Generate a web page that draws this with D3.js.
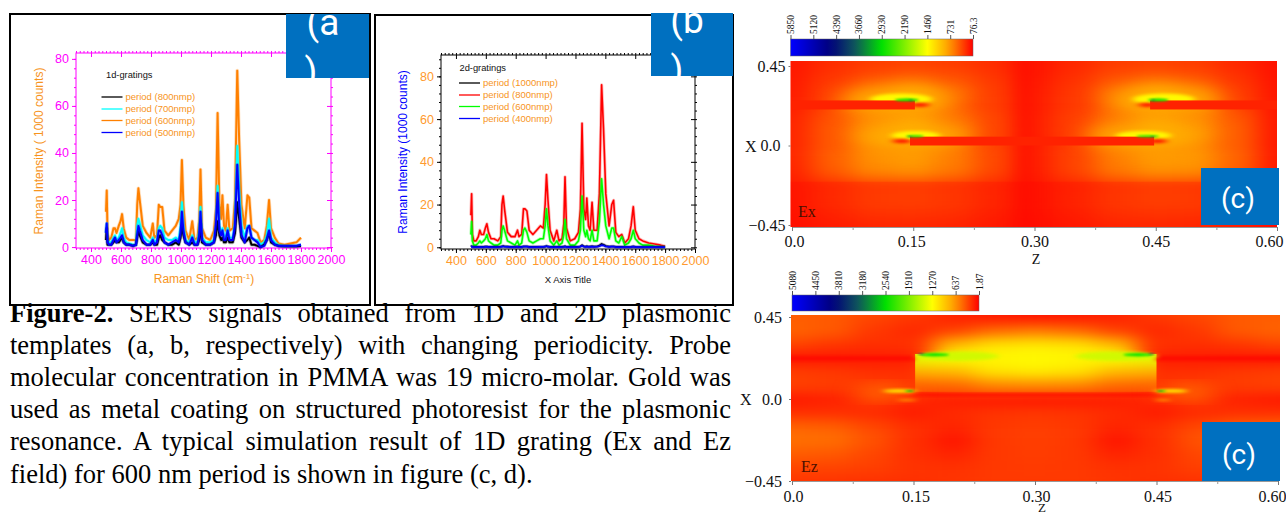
<!DOCTYPE html>
<html lang="en">
<head>
<meta charset="UTF-8">
<title>SERS signals</title>
<style>
  html, body { margin: 0; padding: 0; background: #fff; }
  svg { display: block; }
</style>
</head>
<body>
<div id="container"></div>
<script src="https://d3js.org/d3.v7.min.js"></script>
<script>
// raman shift grid shared by all spectra
var ramanShift = [500,505,510,520,535,550,560,570,585,597,
  607,618,635,655,680,700,708,716,725,745,
  770,795,812,822,840,852,862,875,890,915,
  940,965,985,997,1006,1016,1030,1055,1075,1090,
  1110,1122,1130,1140,1165,1195,1220,1233,1244,1256,
  1268,1276,1287,1298,1311,1323,1345,1360,1375,1388,
  1403,1425,1443,1455,1470,1490,1510,1530,1555,1572,
  1587,1600,1625,1650,1690,1730,1770,1800];

// panel a, 1d gratings
var a600 = [15,24,6,3,4,8,8,6,9,11, 14,8,4,3,3,3,18,25,20,9, 6,4,10,4,5,18,17,17,7,5,
  7,9,12,18,37,18,7,3,11,3, 4,12,33,8,4,3,7,16,57,18, 12,22,9,7,18,7,8,20,75,45,
  18,8,22,21,8,7,6,2,3,9, 20,8,4,1.5,1,1.5,2,4];
var a700 = [6,10,3,2,2,4,5,3,4,6, 8,4,2,1.5,1,1,9,12,10,5, 3,2,4,2,3,8,9,8,4,3,
  3,4,3,9,19,9,3,2,5,2, 2,7,17,4,2,2,3,9,26,9, 6,8,5,4,8,4,4,10,43,24,
  9,4,9,9,4,3,3,1,2,5, 12,4,2,0.8,0.5,0.5,0.5,1];
var a800 = [3,8,1,1,1,2,3,2,2,3, 4,2,1,1,0.5,1,4,7,5,2, 1,1,2,1,1,4,5,3,2,1,
  1,2,1,4,9,5,2,1,2,1, 1,3,10,2,1,1,2,5,11,5, 3,4,2,2,4,2,2,6,19,12,
  4,2,3,4,1,1,0.5,0,1,3, 6,2,1,0.5,0.3,0.3,0.3,0.5];
var a500 = [6,10,2,1,1,3,4,2,3,4, 5,2,1,1,0.5,1,5,9,7,3, 1,1,3,1,2,7,7,5,2,1,
  2,3,2,6,15,7,2,1,4,1, 1,5,15,3,1,1,2,10,23,7, 5,7,3,3,7,3,3,9,35,18,
  5,2,8,9,4,3,2,0,0.5,3, 7,3,1,0.5,0.5,0.5,0.5,1];

// panel b, 2d gratings
var b800 = [15,25,6,3,3,5,8,6,6,9, 11,7,4,4,3,5,20,24,18,7, 5,5,8,5,6,18,18,17,8,6,
  8,10,9,20,34,22,8,3,8,3, 4,11,33,9,3,4,7,18,58,18, 13,23,10,8,21,8,8,25,76,55,
  25,10,20,22,7,5,6,2,4,10, 19,8,4,3,2,1.5,1,0.5];
var b600 = [6,12,3,1,1,2,3,2,3,4, 6,3,2,1,1,2,8,10,8,3, 2,1,3,1,2,8,9,7,3,2,
  3,4,4,10,18,10,3,1,3,1, 2,6,13,4,1,1,3,8,24,8, 5,8,4,3,8,3,3,12,32,20,
  10,4,9,9,3,2,5,1,2,4, 8,4,2,1,1,0.5,0.3,0.2];
var b1000 = [0.3,0.5,0.3,0.2,0.2,0.2,0.2,0.2,0.2,0.3, 0.3,0.2,0.2,0.2,0.2,0.3,0.4,0.6,0.4,0.3, 0.2,0.2,0.3,0.2,0.2,0.4,0.4,0.4,0.2,0.2,
  0.2,0.2,0.2,0.3,0.6,0.3,0.2,0.2,0.2,0.2, 0.2,0.3,0.5,0.2,0.2,0.2,0.2,0.4,1,0.4, 0.3,0.5,0.3,0.3,0.5,0.3,0.4,0.8,1.6,1.2,
  0.6,0.3,0.4,0.4,0.2,0.2,0.2,0.1,0.1,0.2, 0.4,0.2,0.1,0.1,0.1,0.1,0.1,0.1];
var b400 = [0.2,0.3,0.2,0.1,0.1,0.1,0.1,0.1,0.1,0.2, 0.2,0.1,0.1,0.1,0.1,0.2,0.3,0.4,0.3,0.2, 0.1,0.1,0.2,0.1,0.1,0.3,0.3,0.3,0.1,0.1,
  0.1,0.2,0.2,0.3,0.5,0.3,0.1,0.1,0.1,0.1, 0.1,0.2,0.3,0.1,0.1,0.1,0.2,0.3,0.7,0.3, 0.2,0.3,0.2,0.2,0.3,0.2,0.3,0.5,1,0.8,
  0.4,0.2,0.3,0.3,0.1,0.1,0.1,0.1,0.1,0.1, 0.3,0.1,0.1,0.1,0.1,0.1,0.1,0.1];

var aNames = ["period (800nmp)", "period (700nmp)", "period (600nmp)", "period (500nmp)"];
var bNames = ["period (1000nmp)", "period (800nmp)", "period (600nmp)", "period (400nmp)"];
var shiftTicks = [400,600,800,1000,1200,1400,1600,1800,2000];
var intensityTicks = [0,20,40,60,80];

// simulation fields, rows top to bottom, columns left to right
var fieldZ = [0,0.05,0.1,0.15,0.2,0.25,0.3,0.35,0.4,0.45,0.5,0.55,0.6];
var fieldX = [0.45,0.375,0.3,0.225,0.15,0.075,0,-0.075,-0.15,-0.225,-0.3,-0.375,-0.45];
var exField = [
  [120,220,300,330,300,220,110,200,300,330,300,200,90],
  [130,280,420,520,420,270,130,240,420,520,430,260,100],
  [140,340,560,850,560,300,150,280,560,850,600,320,110],
  [150,340,520,600,480,300,150,280,480,600,520,340,110],
  [180,420,680,800,600,340,170,320,600,800,700,440,120],
  [190,450,720,950,620,350,170,330,620,950,760,470,120],
  [190,440,650,650,520,330,160,310,520,650,680,460,120],
  [200,480,720,780,620,360,170,340,620,780,760,500,130],
  [180,440,650,700,580,340,160,330,580,700,680,460,120],
  [130,240,340,360,310,210,120,200,310,360,340,240,90],
  [130,260,370,390,340,230,120,220,340,390,370,260,90],
  [110,220,320,330,300,200,110,190,300,330,320,220,85],
  [95,170,230,240,220,160,90,150,220,240,230,170,76]
];
var ezField = [
  [400,380,300,240,150,110,90,110,150,240,300,380,400],
  [420,380,240,170,280,450,520,450,280,170,240,380,420],
  [300,240,200,220,850,1080,1120,1080,850,220,200,240,300],
  [90,100,110,120,1300,1230,1250,1230,1300,120,110,100,90],
  [260,240,200,200,850,1100,1150,1100,850,200,200,240,260],
  [280,260,260,220,450,580,600,580,450,220,260,260,280],
  [110,140,260,180,120,100,90,100,120,180,260,140,110],
  [200,200,180,120,180,220,230,220,180,120,180,200,200],
  [420,400,300,200,160,240,260,240,160,200,300,400,420],
  [480,470,350,200,90,240,270,240,90,200,350,470,480],
  [400,380,300,200,150,240,260,240,150,200,300,380,400],
  [300,290,270,220,210,240,250,240,210,220,270,290,300],
  [230,220,210,200,220,240,240,240,220,200,210,220,230]
];
// the part of Ez between the two walls
var ezInner = [
  [500,500,500,500,500,500,500,500,500,500,500,500,500],
  [700,700,700,700,700,700,700,700,700,700,700,700,700],
  [1300,1300,1300,1300,1150,1100,1100,1100,1150,1300,1300,1300,1300],
  [1300,1300,1300,1400,1300,1230,1250,1230,1300,1400,1300,1300,1300],
  [800,800,800,800,850,1100,1150,1100,850,800,800,800,800],
  [420,420,420,420,450,580,600,580,450,420,420,420,420],
  [300,300,300,300,250,230,220,230,250,300,300,300,300],
  [200,200,200,200,200,200,200,200,200,200,200,200,200],
  [200,200,200,200,200,200,200,200,200,200,200,200,200],
  [200,200,200,200,200,200,200,200,200,200,200,200,200],
  [200,200,200,200,200,200,200,200,200,200,200,200,200],
  [200,200,200,200,200,200,200,200,200,200,200,200,200],
  [200,200,200,200,200,200,200,200,200,200,200,200,200]
];
// hot spots: z, x, radius z, radius x, value. big and faint ones first
var exHalo = [[0.13,0.25,0.07,0.08,900],[0.46,0.25,0.07,0.08,900],[0.15,0.045,0.07,0.07,900],[0.435,0.045,0.07,0.07,900]];
var exGlow = [[0.135,0.262,0.038,0.032,1420],[0.46,0.262,0.038,0.032,1420],[0.153,0.056,0.03,0.026,1420],[0.435,0.056,0.034,0.026,1420]];
var exHot = [[0.142,0.258,0.015,0.008,2925],[0.453,0.258,0.013,0.008,2925],[0.152,0.052,0.011,0.006,2925],[0.44,0.052,0.014,0.006,2925],
  [0.147,0.257,0.002,0.003,4000],[0.447,0.257,0.002,0.003,4000],[0.146,0.051,0.002,0.003,4000],[0.446,0.051,0.002,0.003,4000]];
var exDark = [[0.158,0.23,0.012,0.012,76],[0.44,0.23,0.012,0.012,76],[0.136,0.025,0.012,0.012,76],[0.452,0.025,0.012,0.012,76]];
var exBars = [[0,0.152,0.255,0.204],[0.443,0.6,0.255,0.204],[0.146,0.448,0.05,0]];
var exLines = [[0.28,0.296,0.5,-0.5]];
var ezHalo = [[0.115,0.04,0.035,0.02,600],[0.485,0.04,0.035,0.02,600]];
var ezGlow = [[0.205,0.235,0.05,0.026,1500],[0.4,0.235,0.05,0.026,1500],
  [0.133,0.044,0.02,0.009,1280],[0.468,0.044,0.02,0.009,1280],[0.142,-0.006,0.012,0.005,800],[0.458,-0.006,0.01,0.005,800]];
var ezHot = [[0.176,0.243,0.018,0.008,2540],[0.427,0.243,0.018,0.008,2540],[0.145,0.044,0.006,0.004,2540],[0.456,0.044,0.006,0.004,2540],
  [0.159,0.247,0.004,0.003,4000],[0.444,0.247,0.004,0.003,4000],[0.146,0.044,0.002,0.002,4000],[0.455,0.044,0.002,0.002,4000]];
var ezLines = [[-0.02,0.15,0.235,0.21],[0.45,0.62,0.235,0.21],[0.15,0.45,0.03,0.015]];

var exLegend = ["5850","5120","4390","3660","2930","2190","1460","731","76.3"];
var ezLegend = ["5080","4450","3810","3180","2540","1910","1270","637","1.87"];
var captionLines = [
  "SERS signals obtained from 1D and 2D plasmonic",
  "templates (a, b, respectively) with changing periodicity. Probe",
  "molecular concentration in PMMA was 19 micro-molar. Gold was",
  "used as metal coating on structured photoresist for the plasmonic",
  "resonance. A typical simulation result of 1D grating (Ex and Ez",
  "field) for 600 nm period is shown in figure (c, d)."
];

var svg = d3.select("#container").append("svg").attr("width", 1286).attr("height", 516);
var defs = svg.append("defs");
var sans = "'Liberation Sans', Arial, sans-serif";
var serif = "'Liberation Serif', 'Times New Roman', serif";

function addBlur(id, dev, margin) {
  var f = defs.append("filter").attr("id", id)
    .attr("x", -margin + "%").attr("y", -margin + "%")
    .attr("width", (100 + 2 * margin) + "%").attr("height", (100 + 2 * margin) + "%")
    .attr("color-interpolation-filters", "sRGB");
  f.append("feGaussianBlur").attr("stdDeviation", dev);
}
addBlur("fieldBlur", "13 6", 5);
addBlur("softBlur", "1.4 0.8", 80);
addBlur("glowBlur", "3.5 1.6", 70);
addBlur("haloBlur", "13 8", 120);
addBlur("lineBlur", "3 1.4", 30);
addBlur("stripeBlur", "9 2", 400);

// frames behind the plots
svg.append("rect").attr("x", 10).attr("y", 14).attr("width", 360).attr("height", 291)
  .attr("fill", "#fff").attr("stroke", "#000").attr("stroke-width", 2);
svg.append("rect").attr("x", 375).attr("y", 15).attr("width", 358).attr("height", 290)
  .attr("fill", "#fff").attr("stroke", "#000").attr("stroke-width", 2);

function drawSpectra(opt) {
  var x = d3.scaleLinear().domain(opt.xDomain).range(opt.xRange);
  var y = d3.scaleLinear().domain(opt.yDomain).range(opt.yRange);
  var g = svg.append("g");
  var top = opt.yRange[1], bottom = opt.yRange[0], left = opt.xRange[0], right = opt.xRange[1];

  g.append("rect").attr("x", left).attr("y", top).attr("width", right - left).attr("height", bottom - top)
    .attr("fill", "none").attr("stroke", opt.axisColor).attr("stroke-width", 1);

  var minorX = d3.range(300, 2001, 25), minorY = d3.range(0, opt.yDomain[1], 4);
  var axes = [
    [d3.axisBottom(x), bottom, 0, minorX], [d3.axisTop(x), top, 0, minorX],
    [d3.axisLeft(y), left, 1, minorY], [d3.axisRight(y), right, 1, minorY]
  ];
  axes.forEach(function (a, i) {
    var ax = g.append("g").attr("transform", a[2] ? "translate(" + a[1] + ",0)" : "translate(0," + a[1] + ")");
    ax.call(a[0].tickValues(a[3]).tickSize(2).tickFormat("")).select(".domain").remove();
    ax.selectAll("line").attr("stroke", opt.axisColor);
    var major = g.append("g").attr("transform", ax.attr("transform"));
    var ticks = a[2] ? intensityTicks : shiftTicks;
    var fresh = a[2] ? (i === 2 ? d3.axisLeft(y) : d3.axisRight(y)) : (i === 0 ? d3.axisBottom(x) : d3.axisTop(x));
    major.call(fresh.tickValues(ticks).tickSize(i === 0 || i === 2 ? 4 : -4).tickFormat(i === 0 || i === 2 ? d3.format("d") : ""))
      .select(".domain").remove();
    major.selectAll("line").attr("stroke", opt.axisColor);
    major.selectAll("text").attr("fill", opt.tickColor).attr("font-family", sans).attr("font-size", 12.5);
  });

  var line = d3.line().x(function (d, i) { return x(ramanShift[i]); }).y(function (d) { return y(d); });
  // wide pale copy under each trace for the noise around it
  opt.series.forEach(function (s) {
    g.append("path").attr("d", line(s.values)).attr("fill", "none").attr("stroke", s.color)
      .attr("stroke-width", opt.width + 1.6).attr("stroke-opacity", 0.28).attr("stroke-linejoin", "round");
    g.append("path").attr("d", line(s.values)).attr("fill", "none").attr("stroke", s.color)
      .attr("stroke-width", opt.width).attr("stroke-linejoin", "round");
  });

  g.append("text").attr("x", opt.titleX).attr("y", opt.titleY).attr("font-family", sans)
    .attr("font-size", 9.3).attr("fill", "#111").text(opt.title);
  opt.legend.forEach(function (d, i) {
    g.append("line").attr("x1", opt.legendX).attr("x2", opt.legendX + 21)
      .attr("y1", opt.legendY[i]).attr("y2", opt.legendY[i])
      .attr("stroke", d.color).attr("stroke-width", 1.3);
    g.append("text").attr("x", opt.legendX + 24).attr("y", opt.legendY[i] + 3).attr("font-family", sans)
      .attr("font-size", 9.5).attr("fill", "#f7941d").text(d.name);
  });

  g.append("text").attr("transform", "translate(" + opt.yLabelX + "," + opt.yLabelY + ") rotate(-90)")
    .attr("text-anchor", "middle").attr("font-family", sans).attr("font-size", 12)
    .attr("fill", opt.yLabelColor).text(opt.yLabel);
  return g;
}

var panelA = drawSpectra({
  xDomain: [300, 2000], xRange: [76, 331], yDomain: [-0.4, 82.5], yRange: [248, 53],
  axisColor: "#ff00ff", tickColor: "#ff00ff", width: 2,
  series: [{ values: a600, color: "#ff8000" }, { values: a700, color: "#00ffff" }, { values: a800, color: "#000" }, { values: a500, color: "#0000ff" }],
  title: "1d-gratings", titleX: 106, titleY: 78, legendX: 101.5, legendY: [97, 109, 120.5, 132.5],
  legend: [{ name: aNames[0], color: "#000" }, { name: aNames[1], color: "#00ffff" }, { name: aNames[2], color: "#ff8000" }, { name: aNames[3], color: "#0000ff" }],
  yLabel: "Raman Intensity ( 1000 counts)", yLabelColor: "#f7941d", yLabelX: 43, yLabelY: 151
});
panelA.append("text").attr("x", 204).attr("y", 283).attr("text-anchor", "middle")
  .attr("font-family", sans).attr("font-size", 12).attr("fill", "#f7941d")
  .html('Raman Shift (cm<tspan dy="-4" font-size="8">-1</tspan><tspan dy="4">)</tspan>');

var panelB = drawSpectra({
  xDomain: [300, 2000], xRange: [441, 695], yDomain: [-0.8, 90], yRange: [249, 55],
  axisColor: "#000", tickColor: "#ff9a2e", width: 1.6,
  series: [{ values: b800, color: "#ff0000" }, { values: b600, color: "#00ff00" }, { values: b1000, color: "#000" }, { values: b400, color: "#0000ff" }],
  title: "2d-gratings", titleX: 459.5, titleY: 71, legendX: 459, legendY: [83, 95, 106.5, 118.5],
  legend: [{ name: bNames[0], color: "#000" }, { name: bNames[1], color: "#ff0000" }, { name: bNames[2], color: "#00ff00" }, { name: bNames[3], color: "#0000ff" }],
  yLabel: "Raman Intensity (1000 counts)", yLabelColor: "#0000ff", yLabelX: 407, yLabelY: 152
});
panelB.append("text").attr("x", 568).attr("y", 283).attr("text-anchor", "middle")
  .attr("font-family", sans).attr("font-size", 9.5).attr("fill", "#111").text("X Axis Title");

// blue tags with the wrapped panel letters
function tag(x, y, w, h, first, second, size, id) {
  svg.append("rect").attr("x", x).attr("y", y).attr("width", w).attr("height", h).attr("fill", "#0070c0");
  defs.append("clipPath").attr("id", id).append("rect").attr("x", x).attr("y", y).attr("width", w).attr("height", h);
  var t = svg.append("g").attr("clip-path", "url(#" + id + ")").attr("fill", "#fff").attr("font-family", "Roboto, sans-serif").attr("font-size", size);
  t.append("text").attr("x", first.x).attr("text-anchor", "middle").attr("y", first.y).text(first.s);
  if (second) t.append("text").attr("x", second.x).attr("text-anchor", "middle").attr("y", second.y).text(second.s);
}
tag(286, 14, 83, 64, { s: "(a", x: 323, y: 35 }, { s: ")", x: 311, y: 84 }, 37, "tagA");
tag(651, 13, 82, 63, { s: "(b", x: 687, y: 33 }, { s: ")", x: 677, y: 82 }, 37, "tagB");

// caption
var capX0 = 10, capX1 = 731;
var capY = [322, 354, 386, 418, 450, 483];
var cap = svg.append("g").attr("font-family", serif).attr("font-size", 26.5).attr("fill", "#000");
captionLines.forEach(function (s, i) {
  var t = cap.append("text").attr("x", capX0).attr("y", capY[i]);
  if (i === 0) t.append("tspan").attr("font-weight", "bold").text("Figure-2. ");
  t.append("tspan").text(s);
  if (i < captionLines.length - 1) {
    var gaps = t.text().split(" ").length - 1;
    var extra = (capX1 - capX0 - t.node().getComputedTextLength()) / gaps;
    t.style("word-spacing", extra + "px");
  }
});

// field colour map
function colorMap(maxV) {
  return d3.scaleLinear()
    .domain([1, 0.78, 0.64, 0.5, 0.25, 0.13, 0].map(function (f) { return f * maxV; }))
    .range(["#0000ff", "#00007a", "#0f5a5a", "#00e000", "#ffff00", "#ff9a00", "#ff0000"]);
}

function drawField(opt) {
  var z = d3.scaleLinear().domain([0, 0.6]).range(opt.zRange);
  var x = d3.scaleLinear().domain([0.45, -0.45]).range(opt.xRange);
  var color = colorMap(opt.maxV);
  var g = svg.append("g");

  // colour bar
  var gid = opt.id + "Grad";
  var grad = defs.append("linearGradient").attr("id", gid);
  d3.range(0, 1.001, 0.05).forEach(function (f) {
    grad.append("stop").attr("offset", f).attr("stop-color", color(opt.maxV * (1 - f)));
  });
  g.append("rect").attr("x", opt.barX[0]).attr("y", opt.barY[0]).attr("width", opt.barX[1] - opt.barX[0])
    .attr("height", opt.barY[1] - opt.barY[0]).attr("fill", "url(#" + gid + ")").attr("stroke", "#666").attr("stroke-width", 0.5);
  var barScale = d3.scalePoint().domain(opt.legend).range(opt.barX);
  var barAxis = g.append("g").attr("transform", "translate(0," + opt.barY[0] + ")")
    .call(d3.axisTop(barScale).tickSize(4));
  barAxis.select(".domain").remove();
  barAxis.selectAll("line").attr("stroke", "#555");
  barAxis.selectAll("text").attr("font-family", serif).attr("font-size", 9.5).attr("fill", "#111")
    .attr("transform", "rotate(-90)").attr("text-anchor", "start").attr("x", 5).attr("y", 0).attr("dy", "0.32em");

  defs.append("clipPath").attr("id", opt.id + "Clip").append("rect")
    .attr("x", opt.left).attr("y", opt.top).attr("width", opt.right - opt.left).attr("height", opt.bottom - opt.top);

  function cells(layer, grid) {
    var flat = [];
    grid.forEach(function (row, i) {
      row.forEach(function (v, j) {
        flat.push({ i: i, j: j, v: v });
      });
    });
    // outer cells run past the clip so the blur does not fade at the edge
    var dz = z(fieldZ[1]) - z(fieldZ[0]), dx = x(fieldX[1]) - x(fieldX[0]);
    layer.selectAll("rect").data(flat).enter().append("rect")
      .attr("x", function (d) { return z(fieldZ[d.j]) - dz / 2 - (d.j === 0 ? 50 : 0); })
      .attr("y", function (d) { return x(fieldX[d.i]) - dx / 2 - (d.i === 0 ? 30 : 0); })
      .attr("width", function (d) { return dz + 0.6 + (d.j === 0 || d.j === fieldZ.length - 1 ? 50 : 0); })
      .attr("height", function (d) { return dx + 0.6 + (d.i === 0 || d.i === fieldX.length - 1 ? 30 : 0); })
      .attr("fill", function (d) { return color(d.v); });
  }
  function spots(layer, list, filter) {
    layer.selectAll(null).data(list).enter().append("ellipse")
      .attr("cx", function (d) { return z(d[0]); }).attr("cy", function (d) { return x(d[1]); })
      .attr("rx", function (d) { return z(d[2]) - z(0); }).attr("ry", function (d) { return x(0) - x(d[3]); })
      .attr("fill", function (d) { return color(d[4]); }).attr("filter", filter);
  }

  var map = g.append("g").attr("clip-path", "url(#" + opt.id + "Clip)");
  cells(map.append("g").attr("filter", "url(#fieldBlur)"), opt.field);

  if (opt.inner) {
    defs.append("clipPath").attr("id", opt.id + "Inner").append("rect")
      .attr("x", z(0.152)).attr("y", x(0.247)).attr("width", z(0.45) - z(0.152)).attr("height", x(0.04) - x(0.247));
    var inner = map.append("g").attr("clip-path", "url(#" + opt.id + "Inner)");
    cells(inner.append("g").attr("filter", "url(#fieldBlur)"), opt.inner);
  }
  // soft red stripes
  map.selectAll(null).data(opt.lines).enter().append("rect")
    .attr("x", function (b) { return z(b[0]); }).attr("y", function (b) { return x(b[2]); })
    .attr("width", function (b) { return z(b[1]) - z(b[0]); }).attr("height", function (b) { return x(b[3]) - x(b[2]); })
    .attr("fill", "#ff0c00").attr("filter", opt.lineFilter);

  spots(map, opt.halo, "url(#haloBlur)");
  spots(map, opt.glow, "url(#glowBlur)");
  if (opt.band) {
    map.append("rect").attr("x", opt.left).attr("width", opt.right - opt.left)
      .attr("y", x(opt.band)).attr("height", opt.bottom - x(opt.band)).attr("fill", "#ff0000").attr("opacity", 0.2);
  }
  if (opt.darkSpots) spots(map, opt.darkSpots, "url(#glowBlur)");
  (opt.bars || []).forEach(function (b) {
    map.append("rect").attr("x", z(b[0])).attr("y", x(b[2])).attr("width", z(b[1]) - z(b[0]))
      .attr("height", x(b[3]) - x(b[2])).attr("fill", "#ff2200");
  });
  spots(map, opt.hot, "url(#softBlur)");

  // axes
  var bottomAxis = d3.axisBottom(z).tickValues([0, 0.15, 0.3, 0.45, 0.6]).tickSize(4)
    .tickFormat(function (d) { return d === 0 ? "0.0" : d3.format(".2f")(d); });
  var ba = g.append("g").attr("transform", "translate(0," + opt.bottom + ")").call(bottomAxis);
  ba.select(".domain").attr("stroke", "#999");
  ba.selectAll("line").attr("stroke", "#777");
  ba.selectAll("text").attr("font-family", serif).attr("font-size", 16).attr("fill", "#111")
    .attr("y", opt.tickY).attr("dx", function (d, i) { return opt.labelDx[i]; });
  var minor = g.append("g").attr("transform", "translate(0," + opt.bottom + ")")
    .call(d3.axisBottom(z).tickValues([0.075, 0.225, 0.375, 0.525]).tickSize(3).tickFormat(""));
  minor.select(".domain").remove();
  minor.selectAll("line").attr("stroke", "#999");

  var leftAxis = d3.axisLeft(x).tickValues([0.45, 0, -0.45]).tickSize(2).tickPadding(opt.leftPad)
    .tickFormat(function (d) { return d === 0 ? "0.0" : d3.format(".2f")(d); });
  var la = g.append("g").attr("transform", "translate(" + opt.left + ",0)").call(leftAxis);
  la.select(".domain").remove();
  la.selectAll("line").attr("stroke", "#777");
  la.selectAll("text").attr("font-family", serif).attr("font-size", 16).attr("fill", "#111")
    .attr("dx", function (d) { return d === 0 ? opt.zeroDx : 0; });

  g.append("text").attr("x", opt.xLabelX).attr("y", x(0) + 6).attr("font-family", serif).attr("font-size", 16).attr("fill", "#111").text("X");
  g.append("text").attr("x", opt.zLabelX).attr("y", opt.zLabelY).attr("text-anchor", "middle").attr("font-family", serif).attr("font-size", opt.zLabelSize).attr("fill", "#111").text("Z");
  g.append("text").attr("x", opt.nameX).attr("y", opt.nameY).attr("font-family", serif).attr("font-size", 16).attr("fill", "#4a1000").text(opt.name);
}

drawField({
  id: "ex", name: "Ex", field: exField, maxV: 5850, legend: exLegend,
  zRange: [792, 1277], xRange: [66, 225], left: 790.5, right: 1277, top: 61, bottom: 227,
  barX: [790.5, 973], barY: [39, 56], band: -0.205, lines: exLines, lineFilter: "url(#stripeBlur)",
  halo: exHalo, glow: exGlow, hot: exHot, darkSpots: exDark, bars: exBars,
  tickY: 9, labelDx: [2, -2, 0, 0, -8], leftPad: 3, zeroDx: -5,
  xLabelX: 745, zLabelX: 1036, zLabelY: 264, zLabelSize: 14, nameX: 798, nameY: 217
});
drawField({
  id: "ez", name: "Ez", field: ezField, inner: ezInner, maxV: 5080, legend: ezLegend,
  zRange: [792, 1278], xRange: [317, 481], left: 791, right: 1280, top: 315, bottom: 481,
  barX: [792, 979], barY: [295, 311], lines: ezLines, lineFilter: "url(#lineBlur)",
  halo: ezHalo, glow: ezGlow, hot: ezHot,
  tickY: 9.5, labelDx: [1, 2, 1, 1, -6], leftPad: 7, zeroDx: 0,
  xLabelX: 740, zLabelX: 1042, zLabelY: 512, zLabelSize: 13, nameX: 801, nameY: 472
});

tag(1201, 168, 78, 57, { s: "(c)", x: 1238, y: 208 }, null, 28, "tagC");
tag(1202, 422, 78, 59, { s: "(c)", x: 1239, y: 464 }, null, 28, "tagD");
</script>
</body>
</html>
